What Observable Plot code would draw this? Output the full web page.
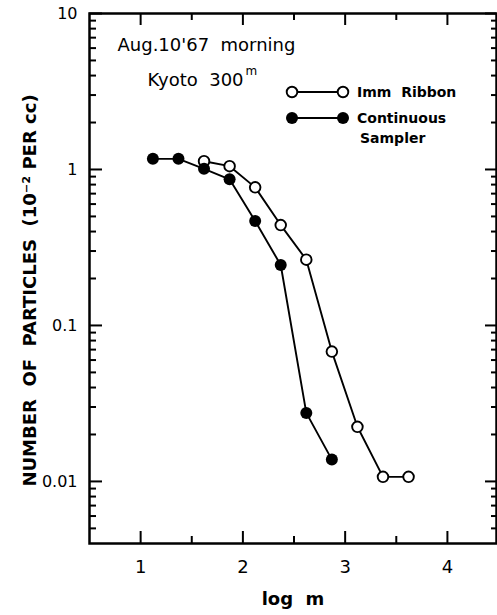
<!DOCTYPE html>
<html>
<head>
<meta charset="utf-8">
<script src="https://cdn.jsdelivr.net/npm/d3@7"></script>
<script src="https://cdn.jsdelivr.net/npm/@observablehq/plot@0.6"></script>
<style>
  html, body { margin: 0; padding: 0; background: #fff; }
  svg text { white-space: pre; }
</style>
</head>
<body>
<div id="chart"></div>
<script>
// ---- data ----
const contLogM   = [1.12, 1.37, 1.62, 1.87, 2.12, 2.37, 2.62, 2.87];
const contValues = [1.17, 1.17, 1.01, 0.865, 0.467, 0.244, 0.0275, 0.0138];
const ribbonLogM   = [1.62, 1.87, 2.12, 2.37, 2.62, 2.87, 3.12, 3.37, 3.62];
const ribbonValues = [1.13, 1.05, 0.768, 0.44, 0.264, 0.068, 0.0224, 0.0107, 0.0107];
const xTicks = [1, 2, 3, 4];
const xMinorTicks = [1.5, 2.5, 3.5];
const yTicks = [0.01, 0.1, 1, 10];
const yTickLabels = ["0.01", "0.1", "1", "10"];
const yMinorTicks = [0.005, 0.006, 0.007, 0.008, 0.009,
  0.02, 0.03, 0.04, 0.05, 0.06, 0.07, 0.08, 0.09,
  0.2, 0.3, 0.4, 0.5, 0.6, 0.7, 0.8, 0.9,
  2, 3, 4, 5, 6, 7, 8, 9];
const xLabel = "log  m";
const yLabel = "NUMBER  OF  PARTICLES  (10⁻² PER cc)";
const note1 = "Aug.10'67  morning";
const note2 = "Kyoto  300";
const note2Sup = "m";
const legendLabels = ["Imm  Ribbon", "Continuous", "Sampler"];

// ---- layout ----
const W = 497, H = 615;
const mTop = 13, mLeft = 89, mRight = 1, mBottom = 72;
const innerW = W - mLeft - mRight, innerH = H - mTop - mBottom;
const font = "DejaVu Sans, sans-serif";

const cont = contLogM.map((x, i) => ({x, y: contValues[i]}));
const ribbon = ribbonLogM.map((x, i) => ({x, y: ribbonValues[i]}));

const chart = Plot.plot({
  width: W, height: H,
  marginTop: mTop, marginLeft: mLeft, marginRight: mRight, marginBottom: mBottom,
  style: {fontFamily: font, background: "#fff", color: "#000"},
  x: {domain: [0.5, 4.48]},
  y: {type: "log", domain: [0.004, 10]},
  marks: [
    // ticks, bottom & top
    Plot.tickX(xTicks, {x: d => d, insetTop: innerH - 12, strokeWidth: 2}),
    Plot.tickX(xMinorTicks, {x: d => d, insetTop: innerH - 7, strokeWidth: 2}),
    Plot.tickX(xTicks, {x: d => d, insetBottom: innerH - 12, strokeWidth: 2}),
    Plot.tickX(xMinorTicks, {x: d => d, insetBottom: innerH - 7, strokeWidth: 2}),
    // ticks, left & right
    Plot.tickY(yTicks, {y: d => d, insetRight: innerW - 13, strokeWidth: 2}),
    Plot.tickY(yMinorTicks, {y: d => d, insetRight: innerW - 7, strokeWidth: 2}),
    Plot.tickY(yTicks, {y: d => d, insetLeft: innerW - 11, strokeWidth: 2}),
    Plot.tickY(yMinorTicks, {y: d => d, insetLeft: innerW - 5, strokeWidth: 2}),
    Plot.frame({stroke: "#000", strokeWidth: 2.5}),
    Plot.axisX({ticks: xTicks, tickSize: 0, tickPadding: 17, fontSize: 18, label: null, tickFormat: d => String(d)}),
    Plot.axisY({ticks: yTicks, tickSize: 0, tickPadding: 12, fontSize: 16, label: null,
      tickFormat: d => yTickLabels[yTicks.indexOf(d)]}),
    // data
    Plot.line(ribbon, {x: "x", y: "y", stroke: "#000", strokeWidth: 1.9}),
    Plot.line(cont, {x: "x", y: "y", stroke: "#000", strokeWidth: 1.9}),
    Plot.dot(ribbon, {x: "x", y: "y", r: 5.3, fill: "#fff", stroke: "#000", strokeWidth: 1.9}),
    Plot.dot(cont, {x: "x", y: "y", r: 6, fill: "#000", stroke: "none"}),
    // axis titles
    Plot.text([xLabel], {frameAnchor: "bottom", dy: 61, fontSize: 18, fontWeight: "bold", textAnchor: "middle", lineAnchor: "bottom", text: d => d}),
    Plot.text([yLabel], {frameAnchor: "left", rotate: -90, dx: -59, dy: 12, fontSize: 18, fontWeight: "bold", textAnchor: "middle", lineAnchor: "middle", text: d => d}),
    // annotations
    Plot.text([note1], {frameAnchor: "top-left", dx: 28, dy: 32, fontSize: 18, textAnchor: "start", lineAnchor: "middle", text: d => d}),
    Plot.text([note2], {frameAnchor: "top-left", dx: 58, dy: 67, fontSize: 18, textAnchor: "start", lineAnchor: "middle", text: d => d}),
    Plot.text([note2Sup], {frameAnchor: "top-left", dx: 156, dy: 58, fontSize: 12, textAnchor: "start", lineAnchor: "middle", text: d => d})
  ]
});

document.getElementById("chart").appendChild(chart);

// legend, drawn in the same svg
const svg = d3.select(chart);
const lg = svg.append("g").attr("font-family", font).attr("font-weight", "bold")
  .attr("font-size", 14).attr("text-anchor", "start");
const rows = [{y: 92, fill: "#fff", r: 5.3}, {y: 118, fill: "#000", r: 6}];
rows.forEach(r => {
  lg.append("line").attr("x1", 292).attr("x2", 343).attr("y1", r.y).attr("y2", r.y)
    .attr("stroke", "#000").attr("stroke-width", 1.9);
  [292, 343].forEach(cx => lg.append("circle").attr("cx", cx).attr("cy", r.y).attr("r", r.r)
    .attr("fill", r.fill).attr("stroke", r.fill === "#fff" ? "#000" : "none").attr("stroke-width", 1.9));
});
lg.append("text").attr("x", 357).attr("y", 92).attr("dy", "0.35em").text(legendLabels[0]);
lg.append("text").attr("x", 357).attr("y", 118).attr("dy", "0.35em").text(legendLabels[1]);
lg.append("text").attr("x", 360).attr("y", 138).attr("dy", "0.35em").text(legendLabels[2]);
</script>
</body>
</html>
